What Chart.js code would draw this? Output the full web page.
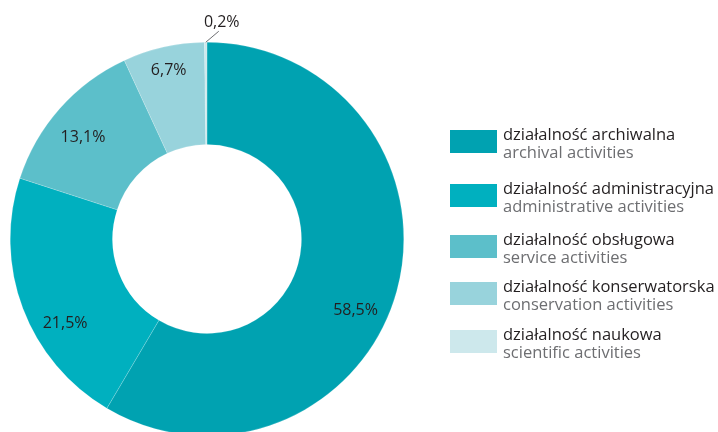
<!DOCTYPE html>
<html>
<head>
<meta charset="utf-8">
<script src="https://cdn.jsdelivr.net/npm/chart.js@4.4.1/dist/chart.umd.min.js"></script>
<style>
	html, body { margin: 0; padding: 0; background: #fff; overflow: hidden; }
	#wrap { position: relative; width: 718px; height: 432px; overflow: hidden; }
	#chart { position: absolute; left: 0; top: 0; }
</style>
</head>
<body>
<div id="wrap">
	<canvas id="chart" width="718" height="450"></canvas>
</div>
<script>
// 데이터
const labelsPl = ['działalność archiwalna', 'działalność administracyjna', 'działalność obsługowa', 'działalność konserwatorska', 'działalność naukowa'];
const labelsEn = ['archival activities', 'administrative activities', 'service activities', 'conservation activities', 'scientific activities'];
const shares = [58.5, 21.5, 13.1, 6.7, 0.2];
const shareLabels = ['58,5%', '21,5%', '13,1%', '6,7%', '0,2%'];

const colors = ['#00a2b1', '#00b0bf', '#5cbfca', '#98d3dc', '#cde8ec'];
const FONT = '"Open Sans", "Noto Sans", sans-serif';

// 라벨 위치 보정 (각도는 도 단위, 반지름은 링 두께 비율)
const labelNudge = [10.5, -10, -2.2, 0, 0];
const labelRadius = [0.69, 0.69, 0.645, 0.77, 0];

const sliceLabels = {
	id: 'sliceLabels',
	afterDatasetsDraw(chart) {
		const ctx = chart.ctx;
		const arcs = chart.getDatasetMeta(0).data;
		ctx.save();
		ctx.font = '16px ' + FONT;
		ctx.fillStyle = '#231f20';
		ctx.textAlign = 'center';
		ctx.textBaseline = 'middle';
		arcs.forEach((arc, i) => {
			const p = arc.getProps(['x', 'y', 'startAngle', 'endAngle', 'innerRadius', 'outerRadius'], true);
			const mid = (p.startAngle + p.endAngle) / 2 + labelNudge[i] * Math.PI / 180;
			if (shares[i] < 1) {
				// 작은 조각은 바깥에 선을 그어 표시
				const sx = p.x + p.outerRadius * Math.cos(mid);
				const sy = p.y + p.outerRadius * Math.sin(mid);
				ctx.strokeStyle = '#6d6e71';
				ctx.lineWidth = 1;
				ctx.beginPath();
				ctx.moveTo(sx, sy);
				ctx.lineTo(sx + 13, sy - 11);
				ctx.stroke();
				ctx.fillText(shareLabels[i], sx + 16, sy - 20);
			} else {
				const r = p.innerRadius + labelRadius[i] * (p.outerRadius - p.innerRadius);
				ctx.fillText(shareLabels[i], p.x + r * Math.cos(mid), p.y + r * Math.sin(mid));
			}
		});
		ctx.restore();
	}
};

// 범례 (두 줄: 폴란드어 / 영어)
const legendTops = [130, 184, 235, 282, 330];
const twoLineLegend = {
	id: 'twoLineLegend',
	afterDraw(chart) {
		const ctx = chart.ctx;
		ctx.save();
		ctx.textAlign = 'left';
		ctx.textBaseline = 'alphabetic';
		labelsPl.forEach((txt, i) => {
			const top = legendTops[i];
			ctx.fillStyle = colors[i];
			ctx.fillRect(450, top, 47, 23);
			ctx.font = '16.5px ' + FONT;
			ctx.fillStyle = '#231f20';
			ctx.fillText(txt, 503, top + 9.5);
			ctx.fillStyle = '#6d6e71';
			ctx.fillText(labelsEn[i], 503, top + 28);
		});
		ctx.restore();
	}
};

const ctx = document.getElementById('chart').getContext('2d');
const chart = new Chart(ctx, {
	type: 'doughnut',
	data: {
		labels: labelsPl,
		datasets: [{
			data: shares,
			backgroundColor: colors,
			borderColor: 'rgba(255, 255, 255, 0.35)',
			borderWidth: 0.5,
			hoverOffset: 0
		}]
	},
	options: {
		responsive: false,
		animation: false,
		cutout: '48%',
		layout: {
			padding: { left: 10, top: 42, right: 314, bottom: 14 }
		},
		plugins: {
			legend: { display: false },
			tooltip: { enabled: false }
		}
	},
	plugins: [sliceLabels, twoLineLegend]
});
</script>
</body>
</html>
